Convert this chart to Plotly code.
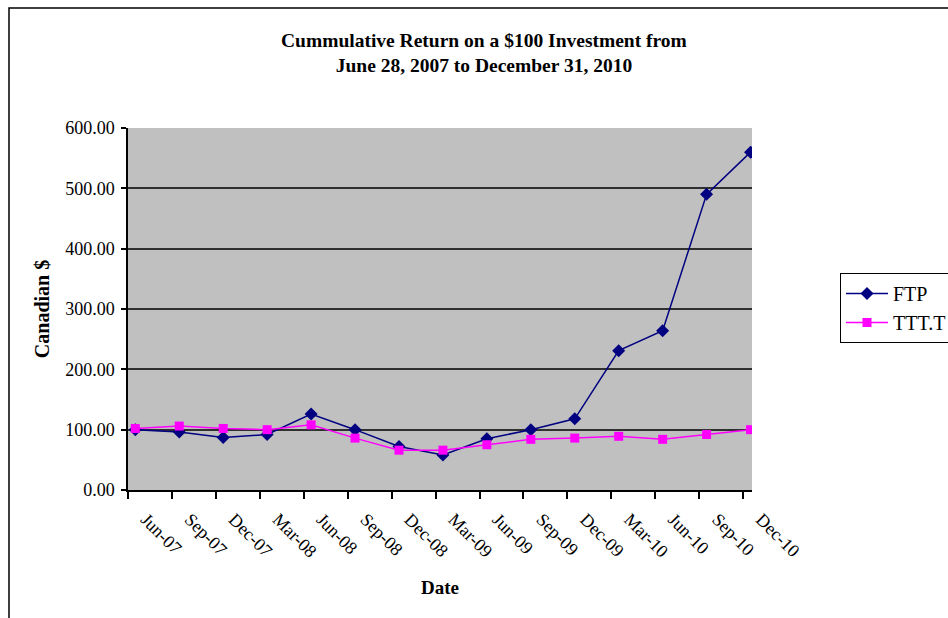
import plotly.graph_objects as go

# Quarter-end observation labels
quarters = ["Jun-07", "Sep-07", "Dec-07", "Mar-08", "Jun-08", "Sep-08", "Dec-08",
            "Mar-09", "Jun-09", "Sep-09", "Dec-09", "Mar-10", "Jun-10", "Sep-10", "Dec-10"]

# Value of a $100 investment at each quarter end (Canadian $)
ftp = [100, 96, 87, 92, 126, 100, 72, 58, 85, 100, 118, 231, 264, 490, 560]
ttt = [102, 106, 102, 100, 108, 86, 66, 66, 75, 84, 86, 89, 84, 92, 100]

y_ticks = [0, 100, 200, 300, 400, 500, 600]

# monthly date axis: each quarter label starts a 3-month block, points sit mid-month
tick_pos = [3 * i for i in range(len(quarters))]
x_pts = [3 * i + 0.5 for i in range(len(quarters))]

serif = "Liberation Serif, Times New Roman, serif"

fig = go.Figure()
fig.add_trace(go.Scatter(
    x=x_pts, y=ftp, name="FTP", mode="lines+markers",
    line=dict(color="#000080", width=1.5),
    marker=dict(symbol="diamond", size=10, color="#000080"),
))
fig.add_trace(go.Scatter(
    x=x_pts, y=ttt, name="TTT.T", mode="lines+markers",
    line=dict(color="#FF00FF", width=1.5),
    marker=dict(symbol="square", size=9, color="#FF00FF"),
))

L, R, T, B = 128, 196, 128, 128
W, H = 948, 618
pw, ph = W - L - R, H - T - B

def px_x(p):
    return (p - L) / pw

def px_y(p):
    return (H - B - p) / ph

fig.update_layout(
    width=W, height=H,
    margin=dict(l=L, r=R, t=T, b=B, pad=0, autoexpand=False),
    paper_bgcolor="white",
    plot_bgcolor="#C0C0C0",
    font=dict(family=serif, size=18, color="black"),
    showlegend=True,
    legend=dict(
        x=px_x(840), y=px_y(273), xanchor="left", yanchor="top",
        bordercolor="black", borderwidth=1, bgcolor="white",
        font=dict(family=serif, size=20),
        tracegroupgap=0, itemwidth=42,
    ),
    xaxis=dict(
        range=[0, 42.6],
        tickmode="array", tickvals=tick_pos, ticktext=quarters,
        tickangle=45,
        tickfont=dict(family=serif, size=18),
        ticks="outside", ticklen=7, tickcolor="black", tickwidth=1.5,
        showline=True, linecolor="black", linewidth=1.5,
        showgrid=False, zeroline=False,
        ticklabelstandoff=3,
        ticklabelshift=18,
        title=dict(text="<b>Date</b>", font=dict(family=serif, size=19), standoff=20),
    ),
    yaxis=dict(
        range=[0, 600],
        tickmode="array", tickvals=y_ticks,
        ticktext=[f"{v:.2f}" for v in y_ticks],
        tickfont=dict(family=serif, size=18),
        ticks="outside", ticklen=5, tickcolor="black", tickwidth=1.5,
        showline=True, linecolor="black", linewidth=1.5,
        showgrid=True, gridcolor="#303030", gridwidth=1.5,
        zeroline=False,
        ticklabelstandoff=3,
        title=dict(text="<b>Canadian $</b>", font=dict(family=serif, size=20), standoff=10),
    ),
    shapes=[dict(
        type="rect", xref="paper", yref="paper",
        x0=px_x(9), x1=px_x(960), y0=px_y(640), y1=px_y(8),
        line=dict(color="black", width=1.5), fillcolor="rgba(0,0,0,0)", layer="below",
    )],
    annotations=[dict(
        xref="paper", yref="paper", x=px_x(484), y=px_y(53),
        xanchor="center", yanchor="middle", showarrow=False,
        text="<b>Cummulative Return on a $100 Investment from<br>June 28, 2007 to December 31, 2010</b>",
        font=dict(family=serif, size=19.5),
    )],
)

fig.write_html("out.html")
